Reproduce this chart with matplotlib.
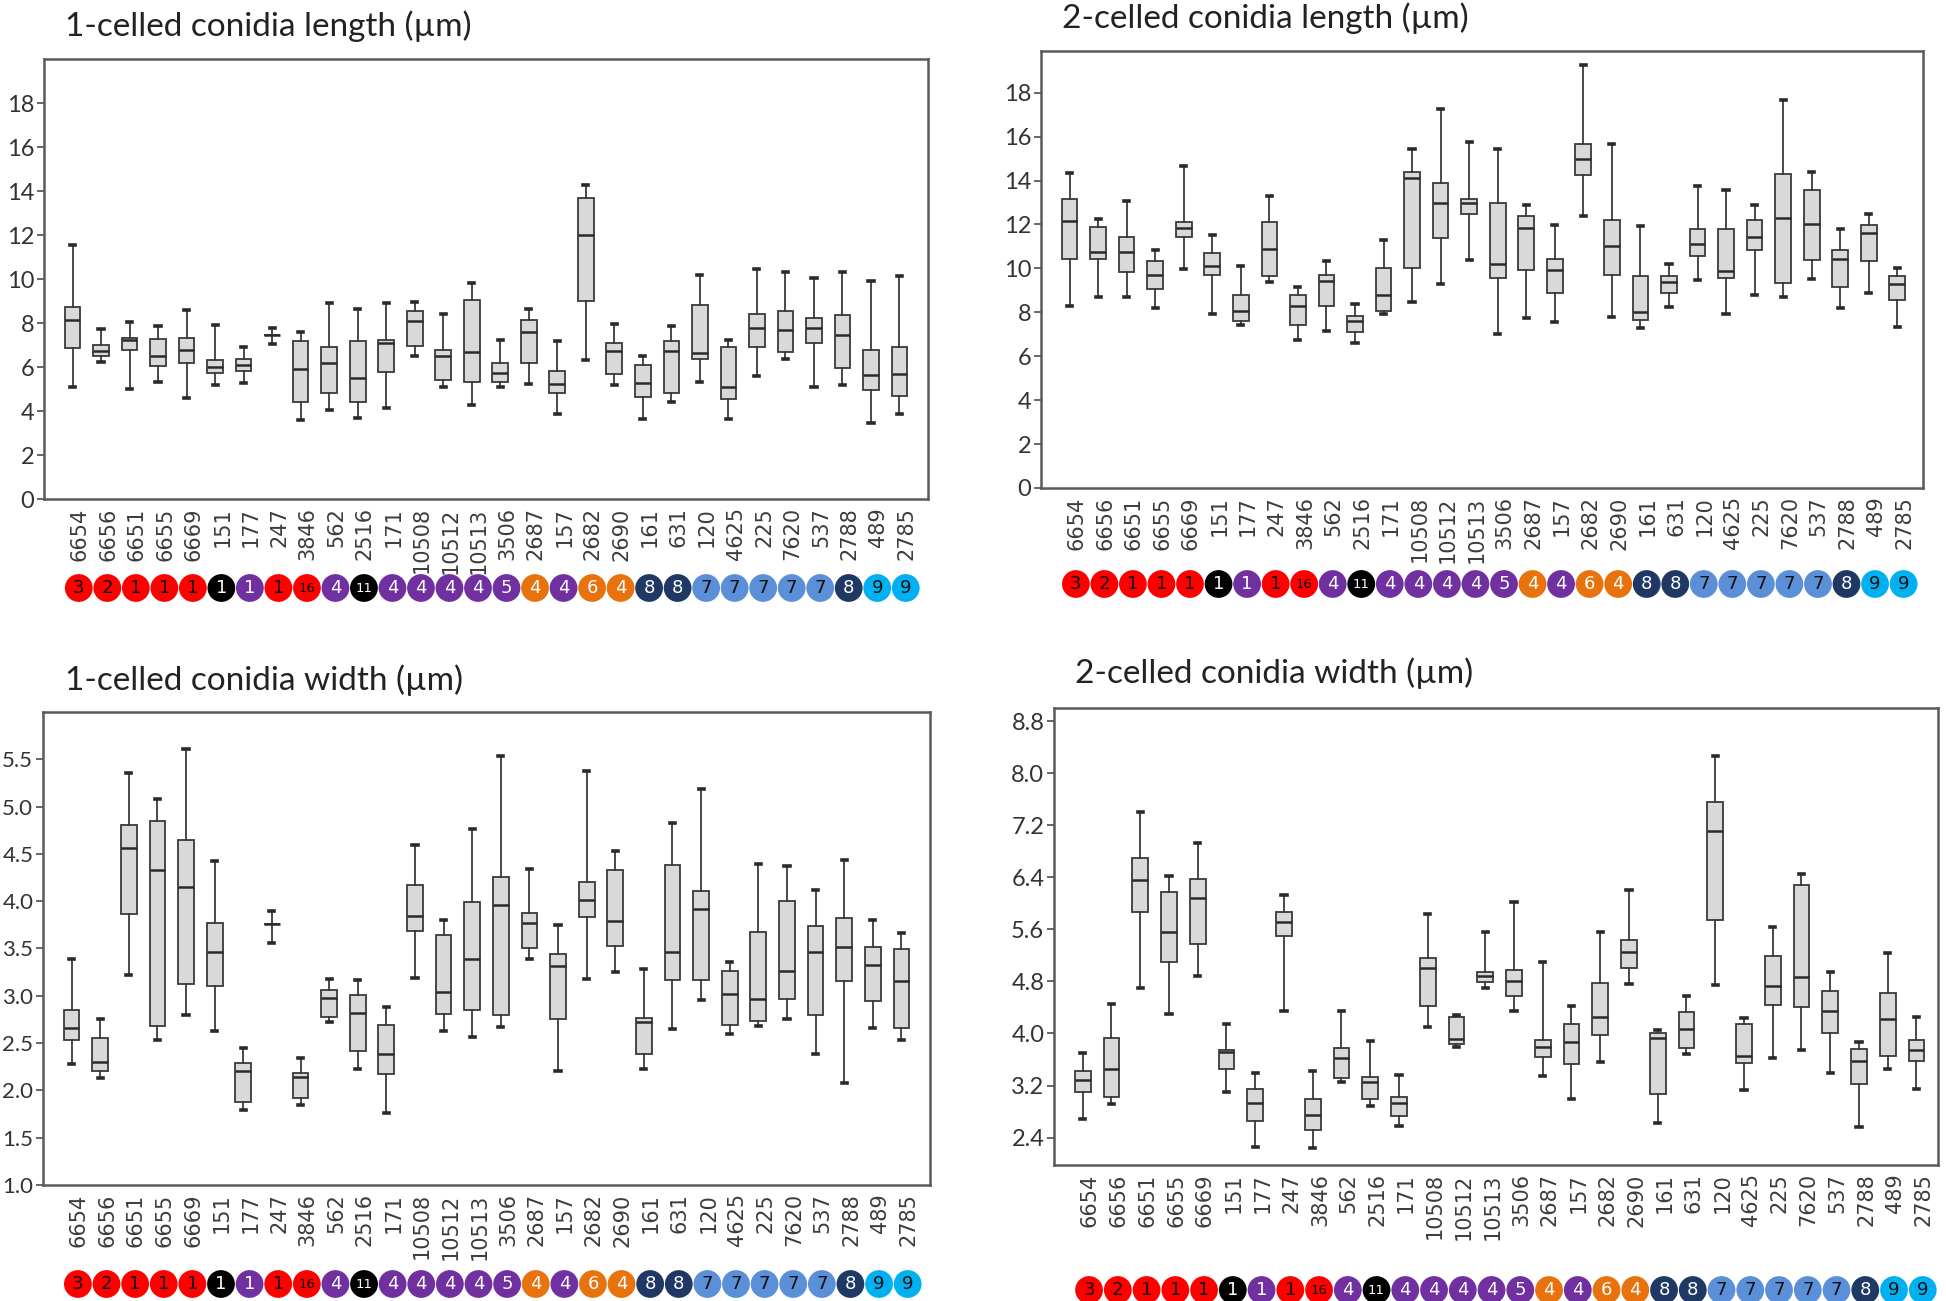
import matplotlib
matplotlib.use("Agg")
import matplotlib.pyplot as plt
from matplotlib.transforms import blended_transform_factory

# strains along the x axis and the clade badges under them
strains = ["6654", "6656", "6651", "6655", "6669", "151", "177", "247", "3846", "562",
           "2516", "171", "10508", "10512", "10513", "3506", "2687", "157", "2682", "2690",
           "161", "631", "120", "4625", "225", "7620", "537", "2788", "489", "2785"]
clades = ["3", "2", "1", "1", "1", "1", "1", "1", "16", "4",
          "11", "4", "4", "4", "4", "5", "4", "4", "6", "4",
          "8", "8", "7", "7", "7", "7", "7", "8", "9", "9"]
clade_groups = ["red", "red", "red", "red", "red", "black", "purple", "red", "red", "purple",
                "black", "purple", "purple", "purple", "purple", "purple", "orange", "purple", "orange", "orange",
                "navy", "navy", "lblue", "lblue", "lblue", "lblue", "lblue", "navy", "cyan", "cyan"]

# 1-celled conidia length
len1_lo = [5.07, 6.22, 5.01, 5.31, 4.58, 5.16, 5.27, 7.04, 3.57, 4.05, 3.70, 4.13, 6.51, 5.08, 4.28,
           5.11, 5.24, 3.85, 6.33, 5.16, 3.64, 4.43, 5.30, 3.64, 5.57, 6.36, 5.07, 5.19, 3.44, 3.87]
len1_q1 = [6.86, 6.48, 6.78, 6.05, 6.18, 5.72, 5.80, 7.45, 4.39, 4.81, 4.43, 5.77, 6.97, 5.42, 5.30,
           5.31, 6.18, 4.81, 8.98, 5.68, 4.63, 4.81, 6.37, 4.54, 6.89, 6.66, 7.09, 5.95, 4.96, 4.69]
len1_med = [8.15, 6.71, 7.21, 6.51, 6.78, 6.02, 6.10, 7.45, 5.90, 6.18, 5.49, 7.09, 8.10, 6.48, 6.68,
            5.72, 7.57, 5.24, 12.02, 6.71, 5.27, 6.71, 6.63, 5.11, 7.77, 7.66, 7.77, 7.47, 5.64, 5.68]
len1_q3 = [8.73, 6.98, 7.34, 7.27, 7.31, 6.33, 6.36, 7.45, 7.16, 6.89, 7.16, 7.21, 8.53, 6.78, 9.06,
           6.18, 8.12, 5.80, 13.69, 7.09, 6.07, 7.16, 8.83, 6.93, 8.41, 8.53, 8.22, 8.38, 6.78, 6.89]
len1_hi = [11.53, 7.74, 8.03, 7.85, 8.57, 7.92, 6.89, 7.77, 7.57, 8.91, 8.65, 8.91, 8.94, 8.41, 9.82,
           7.21, 8.63, 7.16, 14.29, 7.97, 6.48, 7.88, 10.17, 7.21, 10.46, 10.30, 10.05, 10.30, 9.92, 10.15]

# 2-celled conidia length
len2_lo = [8.31, 8.70, 8.70, 8.20, 9.98, 7.93, 7.44, 9.37, 6.76, 7.17, 6.61, 7.94, 8.46, 9.30, 10.36,
           7.02, 7.75, 7.55, 12.38, 7.78, 7.29, 8.25, 9.45, 7.93, 8.81, 8.69, 9.52, 8.20, 8.86, 7.32]
len2_q1 = [10.44, 10.44, 9.83, 9.04, 11.42, 9.72, 7.60, 9.65, 7.44, 8.28, 7.09, 8.05, 10.03, 11.39, 12.46,
           9.57, 9.92, 8.86, 14.25, 9.72, 7.67, 8.89, 10.56, 9.57, 10.82, 9.34, 10.36, 9.16, 10.33, 8.55]
len2_med = [12.18, 10.75, 10.75, 9.72, 11.85, 10.13, 8.05, 10.89, 8.28, 9.42, 7.60, 8.78, 14.10, 12.99, 12.96,
            10.22, 11.85, 9.92, 14.96, 11.01, 8.02, 9.37, 11.12, 9.87, 11.42, 12.30, 12.00, 10.44, 11.62, 9.27]
len2_q3 = [13.17, 11.88, 11.42, 10.33, 12.11, 10.71, 8.81, 12.11, 8.77, 9.69, 7.82, 10.03, 14.39, 13.90, 13.17,
           12.99, 12.38, 10.41, 15.68, 12.20, 9.65, 9.65, 11.80, 11.80, 12.20, 14.32, 13.57, 10.82, 11.96, 9.65]
len2_hi = [14.36, 12.23, 13.06, 10.83, 14.66, 11.51, 10.13, 13.29, 9.16, 10.33, 8.39, 11.29, 15.42, 17.24, 15.75,
           15.42, 12.88, 11.96, 19.25, 15.65, 11.92, 10.22, 13.75, 13.57, 12.87, 17.67, 14.39, 11.80, 12.46, 10.03]

# 1-celled conidia width
wid1_lo = [2.28, 2.13, 3.22, 2.53, 2.80, 2.63, 1.79, 3.56, 1.85, 2.72, 2.23, 1.76, 3.19, 2.63, 2.56,
           2.67, 3.39, 2.21, 3.18, 3.25, 2.23, 2.65, 2.96, 2.60, 2.68, 2.76, 2.38, 2.08, 2.66, 2.53]
wid1_q1 = [2.53, 2.21, 3.86, 2.68, 3.13, 3.10, 1.88, 3.76, 1.92, 2.78, 2.42, 2.17, 3.69, 2.81, 2.85,
           2.80, 3.51, 2.75, 3.83, 3.53, 2.38, 3.17, 3.17, 2.69, 2.73, 2.97, 2.80, 3.16, 2.94, 2.66]
wid1_med = [2.66, 2.30, 4.56, 4.33, 4.15, 3.46, 2.20, 3.76, 2.14, 2.98, 2.82, 2.38, 3.84, 3.04, 3.39,
            3.96, 3.77, 3.31, 4.01, 3.79, 2.72, 3.46, 3.92, 3.02, 2.97, 3.26, 3.46, 3.52, 3.33, 3.16]
wid1_q3 = [2.85, 2.55, 4.81, 4.85, 4.65, 3.77, 2.29, 3.76, 2.18, 3.06, 3.01, 2.69, 4.17, 3.64, 3.99,
           4.26, 3.88, 3.44, 4.20, 4.33, 2.77, 4.38, 4.11, 3.26, 3.67, 4.00, 3.74, 3.82, 3.52, 3.49]
wid1_hi = [3.39, 2.76, 5.36, 5.08, 5.61, 4.42, 2.45, 3.90, 2.34, 3.18, 3.17, 2.88, 4.59, 3.80, 4.76,
           5.53, 4.34, 3.75, 5.38, 4.53, 3.28, 4.83, 5.19, 3.36, 4.39, 4.37, 4.12, 4.44, 3.80, 3.66]

# 2-celled conidia width
wid2_lo = [2.69, 2.91, 4.70, 4.30, 4.89, 3.10, 2.25, 4.35, 2.24, 3.26, 2.88, 2.58, 4.10, 3.80, 4.70,
           4.35, 3.34, 2.99, 3.56, 4.76, 2.62, 3.68, 4.74, 3.13, 3.63, 3.75, 3.39, 2.57, 3.45, 3.15]
wid2_q1 = [3.10, 3.03, 5.87, 5.10, 5.37, 3.45, 2.66, 5.50, 2.51, 3.31, 2.99, 2.74, 4.42, 3.84, 4.79,
           4.57, 3.64, 3.53, 3.98, 5.00, 3.07, 3.78, 5.75, 3.54, 4.44, 4.40, 4.01, 3.23, 3.66, 3.58]
wid2_med = [3.29, 3.45, 6.36, 5.56, 6.08, 3.71, 2.93, 5.72, 2.75, 3.63, 3.26, 2.94, 5.00, 3.92, 4.88,
            4.81, 3.80, 3.87, 4.26, 5.25, 3.93, 4.07, 7.11, 3.66, 4.73, 4.87, 4.35, 3.57, 4.23, 3.74]
wid2_q3 = [3.42, 3.93, 6.69, 6.18, 6.38, 3.74, 3.15, 5.86, 2.99, 3.78, 3.33, 3.03, 5.16, 4.25, 4.95,
           4.98, 3.90, 4.15, 4.77, 5.44, 4.00, 4.33, 7.55, 4.14, 5.19, 6.28, 4.65, 3.76, 4.62, 3.90]
wid2_hi = [3.70, 4.45, 7.40, 6.42, 6.93, 4.15, 3.39, 6.13, 3.42, 4.35, 3.89, 3.36, 5.83, 4.28, 5.56,
           6.02, 5.10, 4.43, 5.56, 6.21, 4.06, 4.57, 8.26, 4.24, 5.64, 6.45, 4.95, 3.87, 5.24, 4.25]

group_fill = {"red": "#ff0000", "black": "#000000", "purple": "#7030a0", "orange": "#e8730e",
              "navy": "#1f3864", "lblue": "#5b8fd8", "cyan": "#00b0f0"}
group_text = {"red": "#111111", "black": "white", "purple": "white", "orange": "white",
              "navy": "white", "lblue": "#111111", "cyan": "#111111"}

W, H = 1946, 1301
fig = plt.figure(figsize=(W / 100, H / 100), dpi=100)

EDGE = "#3a3a3a"
FRAME = "#5a5a5a"


def px_rect(left, top, right, bottom):
    return [left / W, 1 - bottom / H, (right - left) / W, (bottom - top) / H]


def panel(rect, title, title_xy, lo, q1, med, q3, hi, ylim, yticks, yfmt, xmax, badge_y, ysize):
    ax = fig.add_axes(rect)
    pos = list(range(1, len(strains) + 1))
    stats = [dict(whislo=a, q1=b, med=c, q3=d, whishi=e) for a, b, c, d, e in zip(lo, q1, med, q3, hi)]
    ax.bxp(stats, positions=pos, widths=0.55, capwidths=0.18, patch_artist=True, showfliers=False,
           boxprops=dict(facecolor="#d9d9d9", edgecolor=EDGE, linewidth=1.3),
           medianprops=dict(color="#2a2a2a", linewidth=1.8),
           whiskerprops=dict(color=EDGE, linewidth=1.3),
           capprops=dict(color="#2a2a2a", linewidth=2.6))
    ax.set_xlim(0, xmax)
    ax.set_ylim(*ylim)
    ax.set_yticks(yticks)
    ax.set_yticklabels([yfmt.format(v) for v in yticks], family="Lato", fontsize=ysize, color="#333333")
    ax.set_xticks([p + 0.25 for p in pos])
    ax.set_xticklabels(strains, rotation=90, ha="center", va="top", family="DejaVu Sans",
                       fontsize=15, color="#3c3c3c")
    ax.tick_params(axis="x", length=0, pad=6)
    ax.tick_params(axis="y", length=5, width=1.3, color=FRAME, pad=2)
    for sp in ax.spines.values():
        sp.set_color(FRAME)
        sp.set_linewidth(1.8)

    # clade badges under the strain names
    trans = blended_transform_factory(ax.transData, fig.transFigure)
    yb = 1 - badge_y / H
    bx = [p + 0.22 for p in pos]
    ax.scatter(bx, [yb] * len(bx), s=400, c=[group_fill[g] for g in clade_groups],
               transform=trans, clip_on=False, zorder=5, linewidths=0)
    for x, lab, g in zip(bx, clades, clade_groups):
        ax.text(x, yb, lab, transform=trans, ha="center", va="center", family="DejaVu Sans",
                fontsize=13 if len(lab) == 1 else 9.5, color=group_text[g], zorder=6)
    ax.set_xlim(0, xmax)
    ax.set_ylim(*ylim)

    fig.text(title_xy[0] / W, 1 - title_xy[1] / H, title, family="Lato", fontsize=24,
             va="baseline", ha="left", color="#222222")
    return ax


panel(px_rect(44, 59, 928, 499), "1-celled conidia length (µm)", (65, 36),
      len1_lo, len1_q1, len1_med, len1_q3, len1_hi,
      (0, 20), list(range(0, 19, 2)), "{:.0f}", 31, 588, 17)

panel(px_rect(1041, 51, 1923, 488), "2-celled conidia length (µm)", (1062, 28),
      len2_lo, len2_q1, len2_med, len2_q3, len2_hi,
      (0, 19.9), list(range(0, 19, 2)), "{:.0f}", 30.9, 584, 17)

panel(px_rect(43, 712, 930, 1185), "1-celled conidia width (µm)", (65, 690),
      wid1_lo, wid1_q1, wid1_med, wid1_q3, wid1_hi,
      (1.0, 6.0), [1.0 + 0.5 * i for i in range(10)], "{:.1f}", 31, 1284, 16)

panel(px_rect(1054, 708, 1938, 1165), "2-celled conidia width (µm)", (1075, 683),
      wid2_lo, wid2_q1, wid2_med, wid2_q3, wid2_hi,
      (1.98, 9.0), [2.4 + 0.8 * i for i in range(9)], "{:.1f}", 30.75, 1290, 17)

fig.savefig("out.png", dpi=100)
